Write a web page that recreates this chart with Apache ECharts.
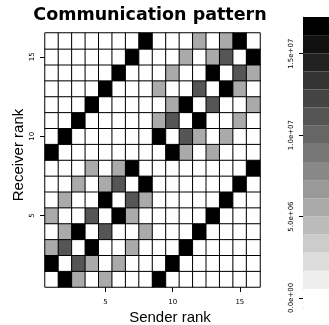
<!DOCTYPE html>
<html>
<head>
<meta charset="utf-8">
<script src="https://cdn.jsdelivr.net/npm/echarts@6/dist/echarts.min.js"></script>
<style>
  html, body { margin: 0; padding: 0; background: #fff; }
  #chart { width: 329px; height: 325px; }
</style>
</head>
<body>
<div id="chart"></div>
<script>
// Ranks on both axes
const senderRanks = [1, 2, 3, 4, 5, 6, 7, 8, 9, 10, 11, 12, 13, 14, 15, 16];
const receiverRanks = [1, 2, 3, 4, 5, 6, 7, 8, 9, 10, 11, 12, 13, 14, 15, 16];

// Bytes received by each rank (rows: receiver 1..16, columns: sender 1..16)
const volume = [
  [0, 1.67e7, 5.6e6, 0, 5.6e6, 0, 0, 0, 1.67e7, 0, 0, 0, 0, 0, 0, 0],
  [1.67e7, 0, 1.11e7, 5.6e6, 0, 5.6e6, 0, 0, 0, 1.67e7, 0, 0, 0, 0, 0, 0],
  [5.6e6, 1.11e7, 0, 1.67e7, 0, 0, 5.6e6, 0, 0, 0, 1.67e7, 0, 0, 0, 0, 0],
  [0, 5.6e6, 1.67e7, 0, 1.11e7, 0, 0, 5.6e6, 0, 0, 0, 1.67e7, 0, 0, 0, 0],
  [5.6e6, 0, 0, 1.11e7, 0, 1.67e7, 5.6e6, 0, 0, 0, 0, 0, 1.67e7, 0, 0, 0],
  [0, 5.6e6, 0, 0, 1.67e7, 0, 1.11e7, 5.6e6, 0, 0, 0, 0, 0, 1.67e7, 0, 0],
  [0, 0, 5.6e6, 0, 5.6e6, 1.11e7, 0, 1.67e7, 0, 0, 0, 0, 0, 0, 1.67e7, 0],
  [0, 0, 0, 5.6e6, 0, 5.6e6, 1.67e7, 0, 0, 0, 0, 0, 0, 0, 0, 1.67e7],
  [1.67e7, 0, 0, 0, 0, 0, 0, 0, 0, 1.67e7, 5.6e6, 0, 5.6e6, 0, 0, 0],
  [0, 1.67e7, 0, 0, 0, 0, 0, 0, 1.67e7, 0, 1.11e7, 5.6e6, 0, 5.6e6, 0, 0],
  [0, 0, 1.67e7, 0, 0, 0, 0, 0, 5.6e6, 1.11e7, 0, 1.67e7, 0, 0, 5.6e6, 0],
  [0, 0, 0, 1.67e7, 0, 0, 0, 0, 0, 5.6e6, 1.67e7, 0, 1.11e7, 0, 0, 5.6e6],
  [0, 0, 0, 0, 1.67e7, 0, 0, 0, 5.6e6, 0, 0, 1.11e7, 0, 1.67e7, 5.6e6, 0],
  [0, 0, 0, 0, 0, 1.67e7, 0, 0, 0, 5.6e6, 0, 0, 1.67e7, 0, 1.11e7, 5.6e6],
  [0, 0, 0, 0, 0, 0, 1.67e7, 0, 0, 0, 5.6e6, 0, 5.6e6, 1.11e7, 0, 1.67e7],
  [0, 0, 0, 0, 0, 0, 0, 1.67e7, 0, 0, 0, 5.6e6, 0, 5.6e6, 1.67e7, 0]
];

// Colour scale: 16 grey levels from 0 up to the largest volume
const scaleMax = 1.67e7;
const scaleLevels = 16;
const colorbarTicks = [0, 5e6, 1e7, 1.5e7];

const step = scaleMax / (scaleLevels - 1);
function levelOf(v) {
  return Math.max(0, Math.min(scaleLevels - 1, Math.round(v / step)));
}
function grayFor(v) {
  const g = Math.round(255 * (scaleLevels - 1 - levelOf(v)) / (scaleLevels - 1));
  return 'rgb(' + g + ',' + g + ',' + g + ')';
}
function sci(v) {
  const parts = v.toExponential(1).split('e');
  const sign = parts[1][0] === '-' ? '-' : '+';
  const exp = parts[1].replace(/[+-]/, '');
  return parts[0] + 'e' + sign + (exp.length < 2 ? '0' + exp : exp);
}

const levelValues = [];
for (let k = 0; k < scaleLevels; k++) levelValues.push(k * step);

const pieces = levelValues.map(v => ({ gte: v - step / 2, lt: v + step / 2, color: grayFor(v) }));

const cells = [];
volume.forEach((row, r) => row.forEach((v, s) => cells.push([s, r, v])));

const every5 = (i, val) => Number(val) % 5 === 0;

const chart = echarts.init(document.getElementById('chart'), null, { renderer: 'canvas' });
chart.setOption({
  animation: false,
  backgroundColor: '#fff',
  grid: [
    { left: 45, top: 33, width: 215, height: 254 },
    { left: 303, top: 17, width: 30, height: 290 }
  ],
  xAxis: [
    {
      type: 'category', gridIndex: 0, data: senderRanks.map(String),
      axisLine: { show: false },
      axisTick: { show: true, alignWithLabel: true, interval: every5, length: 5, lineStyle: { color: '#000' } },
      axisLabel: { interval: every5, margin: 12, fontSize: 7, color: '#000', fontFamily: 'DejaVu Sans' },
      splitLine: { show: false }
    },
    { type: 'value', gridIndex: 1, min: 0, max: 1, show: false }
  ],
  yAxis: [
    {
      type: 'category', gridIndex: 0, data: receiverRanks.map(String),
      axisLine: { show: false },
      axisTick: { show: true, alignWithLabel: true, interval: every5, length: 5, lineStyle: { color: '#000' } },
      axisLabel: { interval: every5, margin: 9, rotate: 90, fontSize: 7, color: '#000', fontFamily: 'DejaVu Sans' },
      splitLine: { show: false }
    },
    {
      type: 'value', gridIndex: 1, position: 'left',
      min: -step / 2, max: scaleMax + step / 2,
      axisLine: { show: true, lineStyle: { color: '#999', width: 1 } },
      axisTick: { show: true, customValues: colorbarTicks, length: 4, lineStyle: { color: '#000' } },
      axisLabel: { customValues: colorbarTicks, rotate: 90, margin: 8, fontSize: 7, color: '#000', fontFamily: 'DejaVu Sans', formatter: sci },
      splitLine: { show: false }
    }
  ],
  visualMap: {
    type: 'piecewise', show: false, seriesIndex: 0, dimension: 2, pieces: pieces
  },
  series: [
    {
      type: 'heatmap', xAxisIndex: 0, yAxisIndex: 0, data: cells,
      itemStyle: { borderColor: '#000', borderWidth: 1 },
      emphasis: { disabled: true }
    },
    {
      type: 'custom', xAxisIndex: 1, yAxisIndex: 1,
      data: levelValues.map(v => [0, v]),
      renderItem: function (params, api) {
        const v = api.value(1);
        const p0 = api.coord([0, v + step / 2]);
        const p1 = api.coord([1, v - step / 2]);
        return {
          type: 'rect',
          shape: { x: p0[0], y: p0[1], width: p1[0] - p0[0], height: p1[1] - p0[1] },
          style: { fill: grayFor(v), stroke: null }
        };
      }
    }
  ],
  graphic: [
    {
      type: 'text', x: 150, y: 15,
      style: { text: 'Communication pattern', font: 'bold 17.5px "DejaVu Sans"', fill: '#000', align: 'center', verticalAlign: 'middle' }
    },
    {
      type: 'text', x: 170, y: 318,
      style: { text: 'Sender rank', font: '15px "Liberation Sans"', fill: '#000', align: 'center', verticalAlign: 'middle' }
    },
    {
      type: 'text', x: 19, y: 155, rotation: Math.PI / 2,
      style: { text: 'Receiver rank', font: '15px "Liberation Sans"', fill: '#000', align: 'center', verticalAlign: 'middle' }
    }
  ]
});
</script>
</body>
</html>
